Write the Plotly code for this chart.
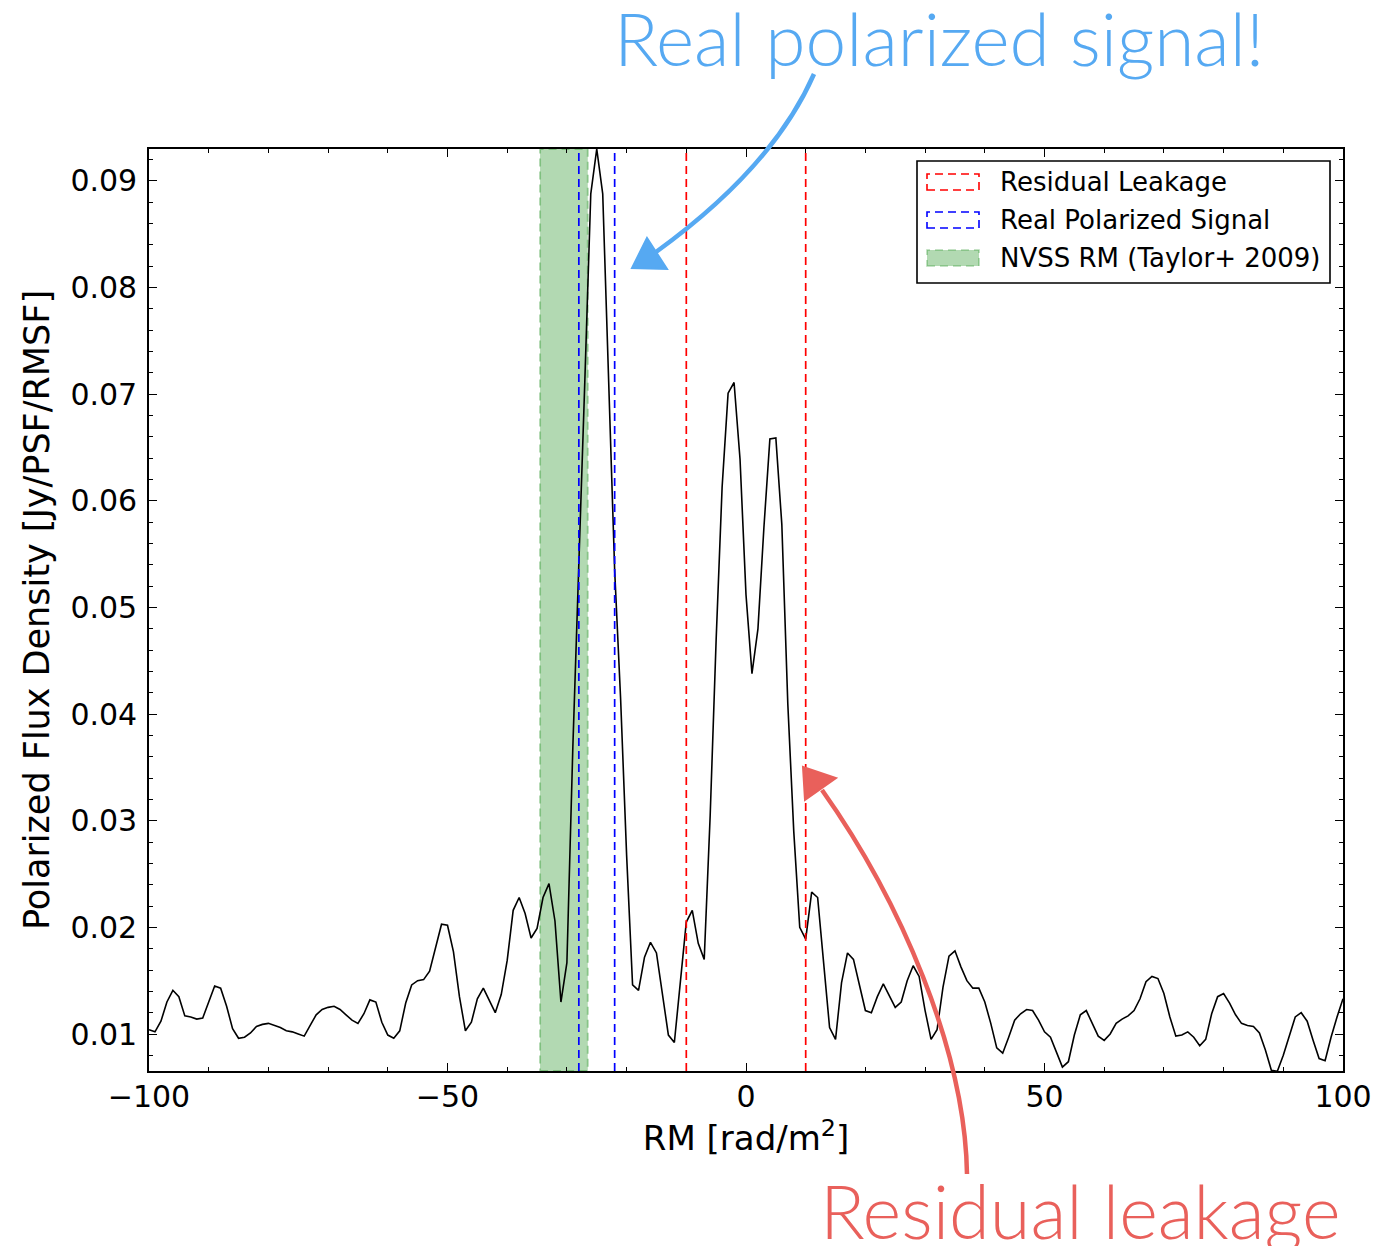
import plotly.graph_objects as go

# ---------------- data ----------------
rm = list(range(-100, 101))
flux = [
    0.0104, 0.0102, 0.0112, 0.0130, 0.0141, 0.0135, 0.0117, 0.0116, 0.0114, 0.0115,   # -100..-91
    0.0130, 0.0145, 0.0143, 0.0126, 0.0105, 0.0096, 0.0097, 0.0101, 0.0107, 0.0109,   # -90..-81
    0.0110, 0.0108, 0.0106, 0.0103, 0.0102, 0.0100, 0.0098, 0.0108, 0.0118, 0.0123,   # -80..-71
    0.0125, 0.0126, 0.0123, 0.0118, 0.0113, 0.0110, 0.0119, 0.0132, 0.0130, 0.0111,   # -70..-61
    0.0099, 0.0096, 0.0103, 0.0129, 0.0146, 0.0150, 0.0151, 0.0159, 0.0182, 0.0203,   # -60..-51
    0.0202, 0.0177, 0.0135, 0.0103, 0.0111, 0.0133, 0.0143, 0.0132, 0.0120, 0.0137,   # -50..-41
    0.0169, 0.0216, 0.0228, 0.0213, 0.0190, 0.0199, 0.0228, 0.0241, 0.0206, 0.0130,   # -40..-31
    0.0167, 0.0370, 0.0533, 0.0712, 0.0888, 0.0930, 0.0888, 0.0712, 0.0535, 0.0414,   # -30..-21
    0.0268, 0.0146, 0.0141, 0.0172, 0.0186, 0.0176, 0.0138, 0.0099, 0.0092, 0.0150,   # -20..-11
    0.0205, 0.0216, 0.0185, 0.0170, 0.0305, 0.0470, 0.0613, 0.0701, 0.0711, 0.0639,   # -10..-1
    0.0512, 0.0438, 0.0480, 0.0575, 0.0658, 0.0659, 0.0578, 0.0410, 0.0290, 0.0200,   # 0..9
    0.0189, 0.0233, 0.0228, 0.0167, 0.0106, 0.0095, 0.0148, 0.0176, 0.0170, 0.0146,   # 10..19
    0.0122, 0.0120, 0.0135, 0.0147, 0.0136, 0.0125, 0.0130, 0.0150, 0.0164, 0.0154,   # 20..29
    0.0122, 0.0095, 0.0104, 0.0144, 0.0173, 0.0178, 0.0163, 0.0150, 0.0143, 0.0143,   # 30..39
    0.0130, 0.0110, 0.0087, 0.0082, 0.0097, 0.0113, 0.0119, 0.0123, 0.0122, 0.0113,   # 40..49
    0.0102, 0.0097, 0.0083, 0.0069, 0.0074, 0.0099, 0.0118, 0.0122, 0.0110, 0.0098,   # 50..59
    0.0094, 0.0100, 0.0110, 0.0114, 0.0117, 0.0122, 0.0133, 0.0149, 0.0154, 0.0152,   # 60..69
    0.0138, 0.0116, 0.0098, 0.0099, 0.0102, 0.0097, 0.0089, 0.0095, 0.0119, 0.0135,   # 70..79
    0.0138, 0.0129, 0.0118, 0.0110, 0.0108, 0.0107, 0.0101, 0.0085, 0.0066, 0.0065,   # 80..89
    0.0080, 0.0099, 0.0116, 0.0120, 0.0112, 0.0094, 0.0077, 0.0075, 0.0097, 0.0116,   # 90..99
    0.0133,                                                                              # 100
]
residual_leakage_rm = [-10, 10]
real_signal_rm = [-28, -22]
nvss_rm_band = [-34.5, -26.5]

x_tickvals = [-100, -50, 0, 50, 100]
x_ticktext = ["\u2212100", "\u221250", "0", "50", "100"]
y_tickvals = [0.01, 0.02, 0.03, 0.04, 0.05, 0.06, 0.07, 0.08, 0.09]
y_ticktext = ["0.01", "0.02", "0.03", "0.04", "0.05", "0.06", "0.07", "0.08", "0.09"]

legend_labels = ["Residual Leakage", "Real Polarized Signal", "NVSS RM (Taylor+ 2009)"]
title_signal = "Real polarized signal!"
title_leak = "Residual leakage"

# ---------------- layout helpers (pixel -> paper) ----------------
FIG_W, FIG_H = 1380, 1246
L, T, R, B = 149, 149, 1343, 1071
PW, PH = R - L, B - T


def px(x):
    return (x - L) / PW


def py(y):
    return (B - y) / PH


fig = go.Figure()

fig.add_trace(go.Scatter(
    x=rm, y=flux, mode="lines",
    line=dict(color="black", width=1.6),
    showlegend=False, hoverinfo="skip",
))

DASH = "8px,5px"
shapes = []
# NVSS band
shapes.append(dict(
    type="rect", xref="x", yref="paper",
    x0=nvss_rm_band[0], x1=nvss_rm_band[1], y0=0, y1=1,
    fillcolor="rgba(0,128,0,0.3)",
    line=dict(color="rgba(0,128,0,0.3)", width=2, dash=DASH),
    layer="below",
))
for v in real_signal_rm:
    shapes.append(dict(type="line", xref="x", yref="paper", x0=v, x1=v, y0=0, y1=1,
                       line=dict(color="blue", width=1.7, dash=DASH)))
for v in residual_leakage_rm:
    shapes.append(dict(type="line", xref="x", yref="paper", x0=v, x1=v, y0=0, y1=1,
                       line=dict(color="red", width=1.7, dash=DASH)))

# ---- custom legend ----
shapes.append(dict(type="rect", xref="paper", yref="paper",
                   x0=px(917), x1=px(1330), y0=py(283), y1=py(161),
                   fillcolor="white", line=dict(color="black", width=1.6), layer="above"))
row_y = [182, 220, 258]
sym_styles = [
    dict(fill="rgba(0,0,0,0)", color="red"),
    dict(fill="rgba(0,0,0,0)", color="blue"),
    dict(fill="rgba(0,128,0,0.3)", color="rgba(0,128,0,0.3)"),
]
for ry, st in zip(row_y, sym_styles):
    shapes.append(dict(type="rect", xref="paper", yref="paper",
                       x0=px(927), x1=px(979), y0=py(ry + 8), y1=py(ry - 8),
                       fillcolor=st["fill"],
                       line=dict(color=st["color"], width=1.6, dash=DASH),
                       layer="above"))

annotations = []
for ry, lab in zip(row_y, legend_labels):
    annotations.append(dict(
        text=lab, xref="paper", yref="paper", x=px(998), y=py(ry),
        xanchor="left", yanchor="middle", showarrow=False,
        font=dict(family="DejaVu Sans", size=26, color="black"),
    ))

# ---- hand-drawn style arrows ----
BLUE = "#56a9f2"
RED = "#e9605b"


def pth(points_cmd):
    out = []
    for item in points_cmd:
        if isinstance(item, str):
            out.append(item)
        else:
            out.append(f"{px(item[0]):.5f},{py(item[1]):.5f}")
    return " ".join(out)


blue_curve = pth(["M", (814, 74), "C", (785, 140), (728, 200), (656, 252)])
blue_head = pth(["M", (647, 238), "L", (632, 268), "L", (667, 269), "Z"])
red_curve = pth(["M", (967, 1174), "C", (965, 1050), (900, 900), (822, 790)])
red_head = pth(["M", (803, 767), "L", (836, 778), "L", (805, 800), "Z"])

shapes.append(dict(type="path", xref="paper", yref="paper", path=blue_curve,
                   line=dict(color=BLUE, width=4.5), layer="above"))
shapes.append(dict(type="path", xref="paper", yref="paper", path=blue_head,
                   fillcolor=BLUE, line=dict(color=BLUE, width=2), layer="above"))
shapes.append(dict(type="path", xref="paper", yref="paper", path=red_curve,
                   line=dict(color=RED, width=4.5), layer="above"))
shapes.append(dict(type="path", xref="paper", yref="paper", path=red_head,
                   fillcolor=RED, line=dict(color=RED, width=2), layer="above"))

annotations.append(dict(
    text=title_signal, xref="paper", yref="paper", x=px(612), y=py(38),
    xanchor="left", yanchor="middle", showarrow=False,
    font=dict(family="Lato", size=73, color=BLUE, weight=300),
))
annotations.append(dict(
    text=title_leak, xref="paper", yref="paper", x=px(818), y=py(1210),
    xanchor="left", yanchor="middle", showarrow=False,
    font=dict(family="Lato", size=74, color=RED, weight=300),
))

axis_common = dict(
    showline=True, linecolor="black", linewidth=1.6, mirror="ticks",
    ticks="inside", ticklen=8, tickwidth=1.2, tickcolor="black",
    showgrid=False, zeroline=False,
    tickfont=dict(family="DejaVu Sans", size=30, color="black"),
)

fig.update_layout(
    width=FIG_W, height=FIG_H,
    margin=dict(l=L, r=FIG_W - R, t=T, b=FIG_H - B, autoexpand=False),
    paper_bgcolor="white", plot_bgcolor="white",
    showlegend=False,
    shapes=shapes, annotations=annotations,
    xaxis=dict(
        range=[-100, 100], tickvals=x_tickvals, ticktext=x_ticktext,
        minor=dict(ticks="inside", dtick=10, tick0=0, ticklen=4, tickwidth=1, tickcolor="black"),
        title=dict(text="RM [rad/m<sup>2</sup>]", standoff=8,
                   font=dict(family="DejaVu Sans", size=34, color="black")),
        ticklabelstandoff=-2,
        **axis_common,
    ),
    yaxis=dict(
        range=[0.00653, 0.0930], tickvals=y_tickvals, ticktext=y_ticktext,
        minor=dict(ticks="inside", dtick=0.002, tick0=0, ticklen=4, tickwidth=1, tickcolor="black"),
        title=dict(text="Polarized Flux Density [Jy/PSF/RMSF]", standoff=10,
                   font=dict(family="DejaVu Sans", size=35, color="black")),
        ticklabelstandoff=4,
        **axis_common,
    ),
)

fig.write_html("out.html")
